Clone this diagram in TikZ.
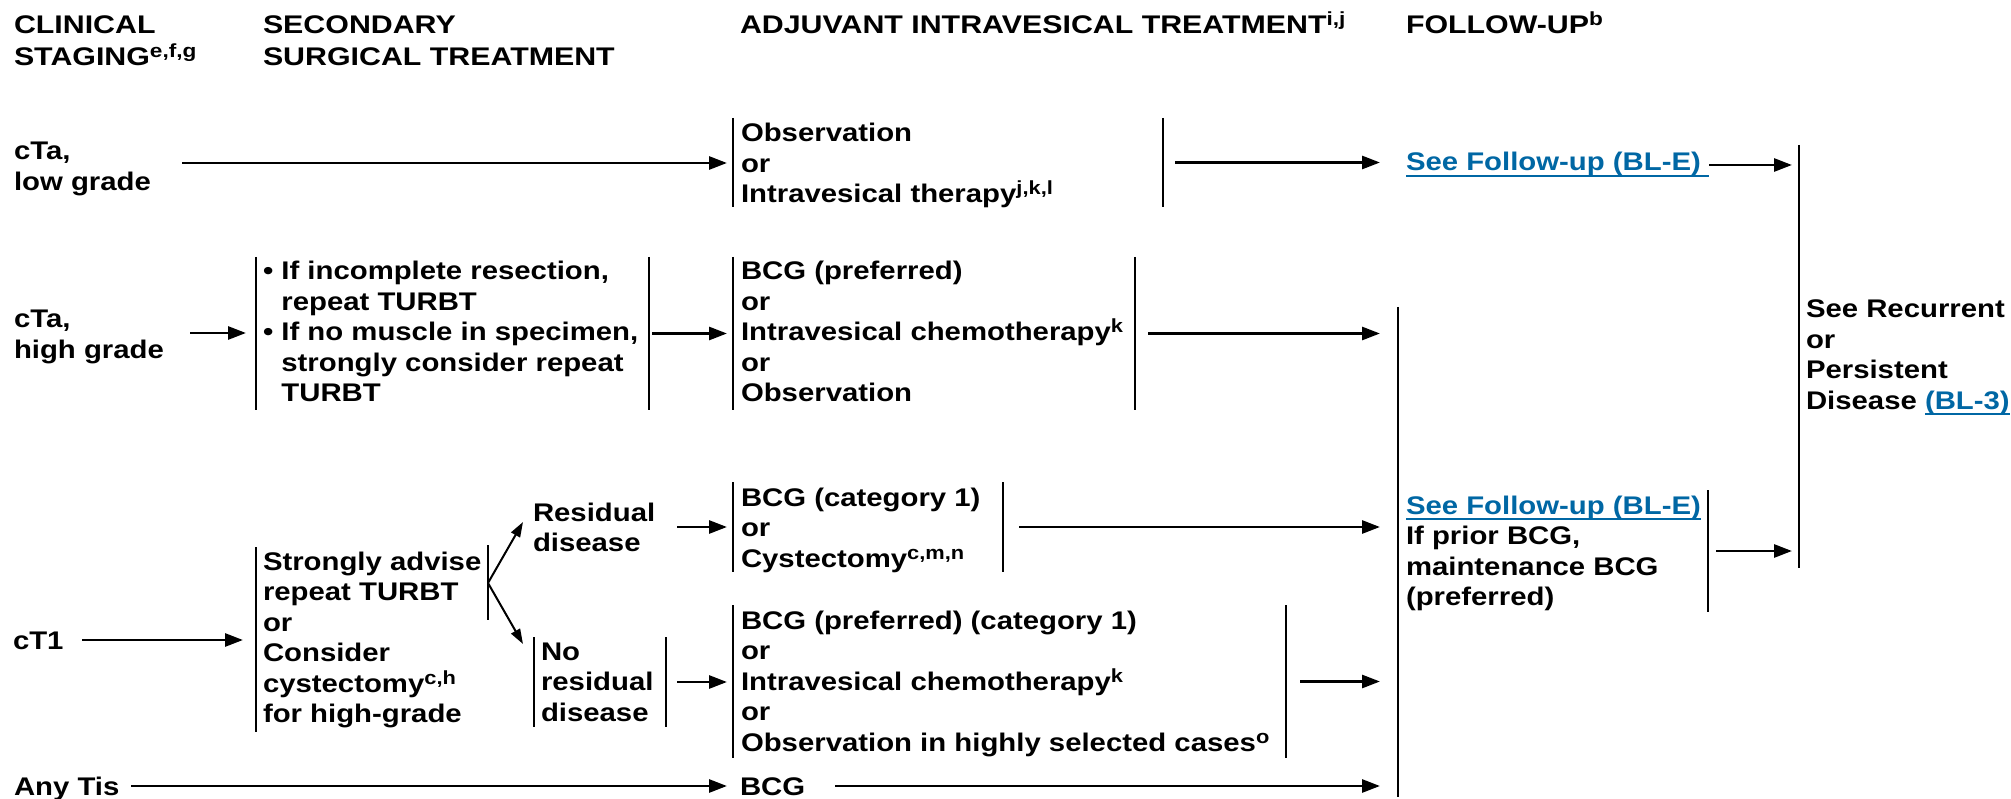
\documentclass[tikz,border=0pt]{standalone}
\usepackage{fontspec}
\setmainfont{Liberation Sans}[FakeStretch=1.15]
\newfontfamily\hdfont{Liberation Sans}[FakeStretch=1.19]
\usetikzlibrary{arrows.meta,fit}
\definecolor{linkblue}{RGB}{0,103,164}
\newcommand\supr[1]{\raisebox{8pt}{\fontsize{19}{19}\selectfont #1}}
\newcommand\lnk[1]{{\color{linkblue}\setbox0\hbox{#1}\rlap{\rule[-6pt]{\wd0}{2pt}}\box0}}
\newcommand\mystrut{\rule{0pt}{23pt}}
\newcommand\bul{\hphantom{•\ }}
\tikzset{
  tx/.style={inner sep=0pt, outer sep=0pt, anchor=north west, align=left,
    font=\fontsize{25.5}{30.5}\selectfont\bfseries},
  hd/.style={tx, font=\hdfont\fontsize{25.5}{31.5}\selectfont\bfseries},
  bx/.style={inner sep=0pt, outer sep=0pt},
  bar/.style={line width=2.4pt},
  arr/.style={line width=2.8pt, -{Triangle[length=18pt,width=13pt]}},
  farr/.style={line width=2pt, -{Triangle[length=15pt,width=10pt]}},
}
\begin{document}
\begin{tikzpicture}[x=1pt, y=-1pt]
\fill[white] (0,0) rectangle (2011,799);
\useasboundingbox (0,0) rectangle (2011,799);

% headers
\node[hd] (h1) at (14,11) {\mystrut CLINICAL\\STAGING\supr{e,f,g}};
\node[hd] (h2) at (263,11) {\mystrut SECONDARY\\SURGICAL TREATMENT};
\node[hd, anchor=base west] (h3) at (740,34) {ADJUVANT INTRAVESICAL TREATMENT\supr{i,j}};
\node[hd, anchor=base west] (h4) at (1406,34) {FOLLOW-UP\supr{b}};

% left column
\node[tx] (ctalow) at (14,137) {\mystrut cTa,\\low grade};
\node[tx] (ctahigh) at (14,305) {\mystrut cTa,\\high grade};
\node[tx, anchor=base west] (ct1) at (13,649) {cT1};
\node[tx, anchor=base west] (anytis) at (14,795) {Any Tis};

% bracket boxes
\node[bx, fit={(733,118) (1163,207)}] (obs) {};
\node[bx, fit={(256,257) (649,410)}] (bul) {};
\node[bx, fit={(733,257) (1135,410)}] (bcgA) {};
\node[bx, fit={(256,547) (488,732)}] (adv) {};
\node[bx, fit={(534,637) (666,727)}] (nores) {};
\node[bx, fit={(733,482) (1003,572)}] (cat1) {};
\node[bx, fit={(733,605) (1286,758)}] (pref1) {};
\node[bx, fit={(1398,490) (1708,612)}] (fu2) {};
\node[bx, fit={(1799,145) (2011,568)}] (rec) {};
\coordinate (fuT) at (1398,307);
\coordinate (fuB) at (1398,797);
\coordinate (advR1) at (488,545);
\coordinate (advR2) at (488,620);

% bars
\foreach \b in {obs,bul,bcgA,nores,cat1,pref1}{
  \draw[bar] (\b.north west) -- (\b.south west);
  \draw[bar] (\b.north east) -- (\b.south east);
}
\draw[bar] (adv.north west) -- (adv.south west);
\draw[bar] (advR1) -- (advR2);
\draw[bar] (fu2.north east) -- (fu2.south east);
\draw[bar] (rec.north west) -- (rec.south west);
\draw[bar] (fuT) -- (fuB);

% box texts
\node[tx] (obsT) at (741,119) {\mystrut Observation\\or\\Intravesical therapy\supr{j,k,l}};
\node[tx] (bulT) at (263,257) {\mystrut •\ If incomplete resection,\\\bul repeat TURBT\\•\ If no muscle in specimen,\\\bul strongly consider repeat\\\bul TURBT};
\node[tx] (bcgAT) at (741,257) {\mystrut BCG (preferred)\\or\\Intravesical chemotherapy\supr{k}\\or\\Observation};
\node[tx] (advT) at (263,547) {\mystrut Strongly advise\\repeat TURBT\\or\\Consider\\cystectomy\supr{c,h}\\for high-grade};
\node[tx] (resT) at (533,498) {\mystrut Residual\\disease};
\node[tx] (noresT) at (541,637) {\mystrut No\\residual\\disease};
\node[tx] (cat1T) at (741,483) {\mystrut BCG (category 1)\\or\\Cystectomy\supr{c,m,n}};
\node[tx] (pref1T) at (741,606) {\mystrut BCG (preferred) (category 1)\\or\\Intravesical chemotherapy\supr{k}\\or\\Observation in highly selected cases\supr{o}};
\node[tx, anchor=base west] (bcgT) at (740,795) {BCG};
\node[tx, anchor=base west] (see1) at (1406,171) {\lnk{See Follow-up (BL-E)\ }};
\node[tx] (fu2T) at (1406,491) {\mystrut\lnk{See Follow-up (BL-E)}\\If prior BCG,\\maintenance BCG\\(preferred)};
\node[tx] (recT) at (1806,295) {\mystrut See Recurrent\\or\\Persistent\\Disease \lnk{(BL-3)}};

% connectors
\coordinate (a1s) at (182,163);
\draw[arr, shorten >=6pt] (a1s) -- (a1s -| obs.west);
\draw[arr, shorten <=12pt, shorten >=26pt] (obs.east) -- (obs.east -| see1.west);
\coordinate (a3s) at (1709,165);
\draw[arr, shorten >=7pt] (a3s) -- (a3s -| rec.west);
\coordinate (a4s) at (190,333);
\draw[arr, shorten >=10pt] (a4s) -- (a4s -| bul.west);
\draw[arr, shorten <=3pt, shorten >=6pt] (bul.east) -- (bcgA.west);
\draw[arr, shorten <=13pt, shorten >=18pt] (bcgA.east) -- (bcgA.east -| fuT);
\coordinate (a7s) at (82,640);
\draw[arr, shorten >=13pt] (a7s) -- (a7s -| adv.west);
\coordinate (fork) at (488,583);
\coordinate (resTip) at (523,522);
\coordinate (noresTip) at (523,644);
\draw[farr] (fork) -- (resTip);
\draw[farr] (fork) -- (noresTip);
\coordinate (a8s) at (677,527);
\draw[arr, shorten >=6pt] (a8s) -- (a8s -| cat1.west);
\draw[arr, shorten <=11pt, shorten >=6pt] (nores.east) -- (nores.east -| pref1.west);
\draw[arr, shorten <=16pt, shorten >=18pt] (cat1.east) -- (cat1.east -| fuT);
\draw[arr, shorten <=14pt, shorten >=18pt] (pref1.east) -- (pref1.east -| fuT);
\coordinate (a12s) at (131,786);
\draw[arr, shorten >=13pt] (a12s) -- (a12s -| bcgT.west);
\coordinate (a13s) at (835,786);
\draw[arr, shorten >=18pt] (a13s) -- (a13s -| fuT);
\draw[arr, shorten <=8pt, shorten >=7pt] (fu2.east) -- (fu2.east -| rec.west);
\end{tikzpicture}
\end{document}
